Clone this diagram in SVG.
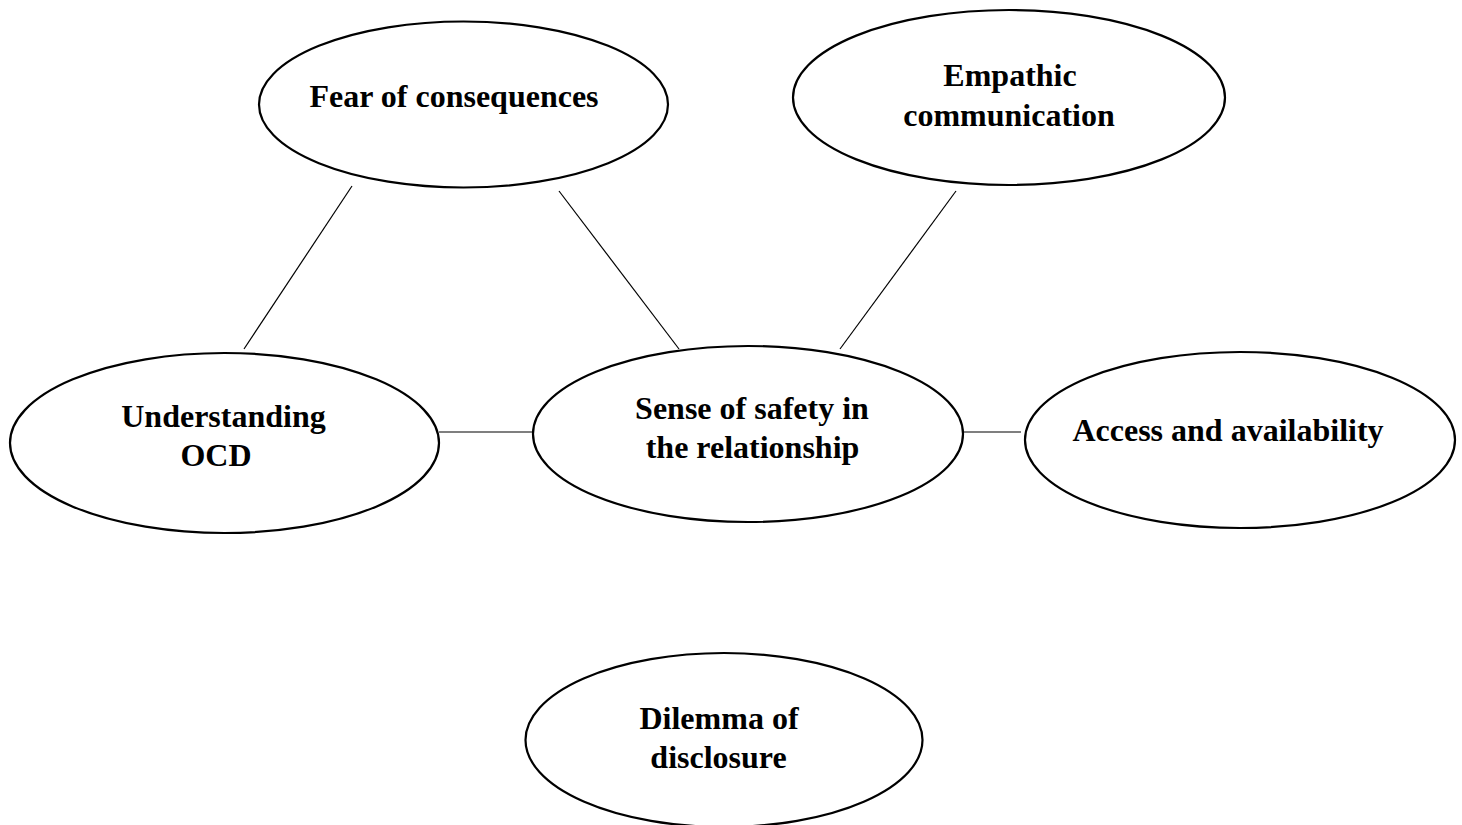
<svg xmlns="http://www.w3.org/2000/svg" width="1462" height="825" viewBox="0 0 1462 825">
  <style>
    .node ellipse { fill: #ffffff; stroke: #000000; stroke-width: 2.2; }
    .node text { font-family: "Liberation Serif", "Times New Roman", serif; font-weight: bold; font-size: 32px; fill: #000000; text-anchor: middle; }
    #connectors line { stroke: #000000; stroke-width: 1.2; }
  </style>
  <rect width="1462" height="825" fill="#ffffff"/>

  <g id="connectors">
    <line x1="352" y1="186" x2="244" y2="349"/>
    <line x1="559" y1="191" x2="679" y2="349"/>
    <line x1="956" y1="191" x2="840" y2="349"/>
    <line x1="439" y1="432" x2="533" y2="432"/>
    <line x1="963" y1="432" x2="1021" y2="432"/>
  </g>

  <g id="fear" class="node">
    <ellipse cx="463.5" cy="104.5" rx="204.5" ry="83"/>
    <text x="454" y="107">Fear of consequences</text>
  </g>

  <g id="empathic" class="node">
    <ellipse cx="1009" cy="97.5" rx="216" ry="87.5"/>
    <text x="1010" y="86">Empathic</text>
    <text x="1009" y="126">communication</text>
  </g>

  <g id="understanding" class="node">
    <ellipse cx="224.5" cy="443" rx="214.5" ry="90"/>
    <text x="223.5" y="427">Understanding</text>
    <text x="216" y="466">OCD</text>
  </g>

  <g id="safety" class="node">
    <ellipse cx="748" cy="434" rx="215" ry="88"/>
    <text x="752" y="419">Sense of safety in</text>
    <text x="752.5" y="458">the relationship</text>
  </g>

  <g id="access" class="node">
    <ellipse cx="1240" cy="440" rx="215" ry="88"/>
    <text x="1228" y="441">Access and availability</text>
  </g>

  <g id="dilemma" class="node">
    <ellipse cx="724" cy="740" rx="198.5" ry="87"/>
    <text x="719" y="729">Dilemma of</text>
    <text x="718.5" y="768">disclosure</text>
  </g>
</svg>
